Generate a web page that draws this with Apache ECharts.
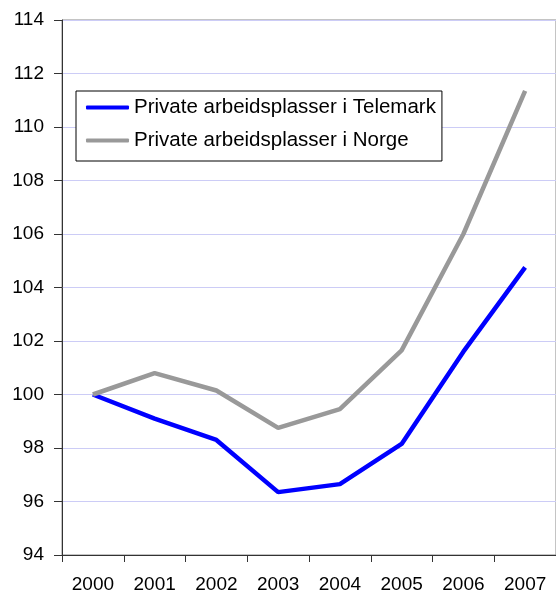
<!DOCTYPE html>
<html>
<head>
<meta charset="utf-8">
<script src="https://cdn.jsdelivr.net/npm/echarts@6/dist/echarts.min.js"></script>
<style>
  html, body { margin: 0; padding: 0; background: #fff; }
  #chart { width: 556px; height: 594px; }
</style>
</head>
<body>
<div id="chart"></div>
<script>
  // data
  var years = ['2000', '2001', '2002', '2003', '2004', '2005', '2006', '2007'];
  var telemark = [100.0, 99.1, 98.3, 96.35, 96.65, 98.15, 101.6, 104.75];
  var norge = [100.0, 100.8, 100.15, 98.75, 99.45, 101.65, 106.0, 111.35];
  var seriesNames = ['Private arbeidsplasser i Telemark', 'Private arbeidsplasser i Norge'];

  var font = 'Liberation Sans';
  var chart = echarts.init(document.getElementById('chart'));

  var option = {
    animation: false,
    backgroundColor: '#fff',
    grid: {
      left: 62,
      top: 20,
      right: -5,
      bottom: 39,
      show: true,
      borderColor: '#888',
      borderWidth: 1,
      backgroundColor: 'transparent'
    },
    legend: {
      data: seriesNames,
      orient: 'vertical',
      left: 76,
      top: 91,
      padding: [6, 6, 10, 10],
      itemGap: 12,
      itemWidth: 43,
      itemHeight: 4,
      icon: 'roundRect',
      borderColor: '#000',
      borderWidth: 1,
      backgroundColor: '#fff',
      textStyle: { fontFamily: font, fontSize: 20.5, color: '#000' }
    },
    xAxis: {
      type: 'category',
      data: years,
      boundaryGap: true,
      axisLine: { lineStyle: { color: '#333', width: 1 } },
      axisTick: { show: true, length: 7, lineStyle: { color: '#333' } },
      axisLabel: { margin: 20, fontFamily: font, fontSize: 19, color: '#000' },
      splitLine: { show: false }
    },
    yAxis: {
      type: 'value',
      min: 94,
      max: 114,
      interval: 2,
      axisLine: { show: true, lineStyle: { color: '#333', width: 1 } },
      axisTick: { show: true, length: 8, lineStyle: { color: '#333' } },
      axisLabel: { margin: 18, fontFamily: font, fontSize: 19, color: '#000' },
      splitLine: { show: true, lineStyle: { color: '#ccccf6', width: 1 } }
    },
    series: [
      {
        name: seriesNames[0],
        type: 'line',
        data: telemark,
        symbol: 'none',
        lineStyle: { color: '#0000ff', width: 4.5 },
        itemStyle: { color: '#0000ff' }
      },
      {
        name: seriesNames[1],
        type: 'line',
        data: norge,
        symbol: 'none',
        lineStyle: { color: '#999999', width: 4.5 },
        itemStyle: { color: '#999999' }
      }
    ]
  };

  chart.setOption(option);
</script>
</body>
</html>
